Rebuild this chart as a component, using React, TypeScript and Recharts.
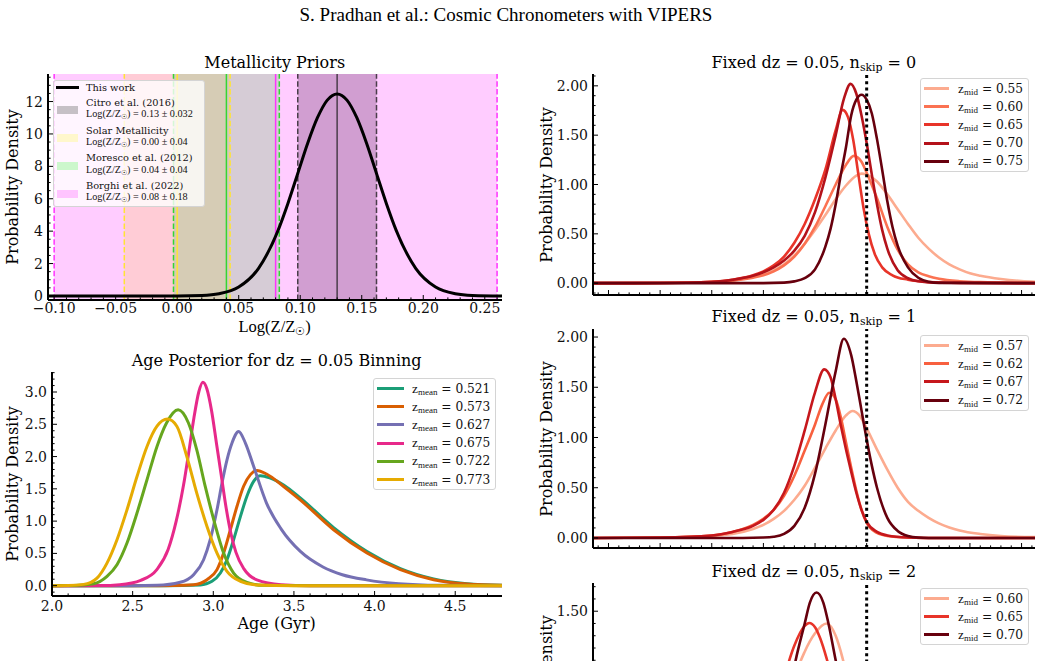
import React from "react";
import { LineChart, Line, XAxis, YAxis, ReferenceArea, ReferenceLine } from "recharts";

const SERIF = '"DejaVu Serif", serif';
const MATH = '"Liberation Serif", "DejaVu Serif", serif';

// ---------- Metallicity priors ----------
const metalLogZ = [-0.105, -0.05, 0.0, 0.02, 0.034, 0.05, 0.066, 0.082, 0.09, 0.098, 0.106, 0.114, 0.122, 0.13, 0.138, 0.146, 0.154, 0.162, 0.17, 0.178, 0.194, 0.21, 0.226, 0.24, 0.264];
const metalPdf = [0, 0, 0.003, 0.034, 0.14, 0.55, 1.69, 4.05, 5.71, 7.56, 9.41, 11.0, 12.09, 12.47, 12.09, 11.0, 9.41, 7.56, 5.71, 4.05, 1.69, 0.55, 0.14, 0.034, 0.001];

const priorNames = ["Citro et al. (2016)", "Solar Metallicity", "Moresco et al. (2012)", "Borghi et al. (2022)"];
const priorMean = [0.13, 0.0, 0.04, 0.08];
const priorSigma = [0.032, 0.043, 0.043, 0.18];
const priorText = ["0.13 \u00b1 0.032", "0.00 \u00b1 0.04", "0.04 \u00b1 0.04", "0.08 \u00b1 0.18"];
const priorFill = ["#808080", "#ffff00", "#00ff00", "#ff00ff"];
const priorOpacity = [0.45, 0.2, 0.2, 0.2];
const priorPatch = ["rgba(128,128,128,0.45)", "rgba(255,255,0,0.2)", "rgba(0,255,0,0.2)", "rgba(255,0,255,0.2)"];
const priorLine = ["#4a3d4a", "#ffe433", "#33d633", "#ff33ff"];

const metalXMajor = [-0.1, -0.05, 0, 0.05, 0.1, 0.15, 0.2, 0.25];
const metalYMajor = [0, 2, 4, 6, 8, 10, 12];

// ---------- Age posterior, dz = 0.05 ----------
const zMean = ["0.521", "0.573", "0.627", "0.675", "0.722", "0.773"];
const ageColors = ["#1b9e77", "#d95f02", "#7570b3", "#e7298a", "#66a61e", "#e6ab02"];

const age521 = [2.0, 2.7, 2.92, 2.992, 3.044, 3.085, 3.126, 3.168, 3.209, 3.251, 3.292, 3.35, 3.436, 3.539, 3.746, 3.953, 4.16, 4.366, 4.573, 4.79];
const pdf521 = [0, 0, 0.01, 0.067, 0.196, 0.402, 0.712, 1.07, 1.39, 1.62, 1.703, 1.67, 1.56, 1.36, 0.9, 0.53, 0.265, 0.105, 0.03, 0.006];
const age573 = [2.0, 2.6, 2.754, 2.878, 2.961, 3.023, 3.064, 3.106, 3.147, 3.188, 3.23, 3.271, 3.33, 3.436, 3.539, 3.746, 3.953, 4.16, 4.366, 4.573, 4.79];
const pdf573 = [0, 0, 0.002, 0.015, 0.093, 0.248, 0.506, 0.867, 1.23, 1.54, 1.72, 1.785, 1.73, 1.537, 1.33, 0.867, 0.506, 0.248, 0.093, 0.026, 0.005];
const age627 = [2.0, 2.5, 2.651, 2.795, 2.878, 2.94, 2.981, 3.023, 3.054, 3.085, 3.116, 3.157, 3.199, 3.25, 3.33, 3.42, 3.54, 3.68, 3.8, 3.95, 4.15, 4.4, 4.79];
const pdf627 = [0, 0, 0.005, 0.052, 0.17, 0.402, 0.712, 1.176, 1.59, 1.95, 2.21, 2.389, 2.21, 1.85, 1.28, 0.88, 0.53, 0.29, 0.17, 0.09, 0.03, 0.005, 0];
const age675 = [2.0, 2.3, 2.42, 2.55, 2.65, 2.72, 2.77, 2.815, 2.85, 2.88, 2.91, 2.935, 2.96, 2.99, 3.02, 3.05, 3.08, 3.11, 3.14, 3.19, 3.27, 3.42, 3.6, 4.79];
const pdf675 = [0, 0.001, 0.015, 0.083, 0.25, 0.56, 1.0, 1.55, 2.1, 2.6, 3.0, 3.15, 3.05, 2.7, 2.2, 1.7, 1.2, 0.8, 0.52, 0.26, 0.09, 0.015, 0, 0];
const age722 = [2.0, 2.134, 2.258, 2.341, 2.403, 2.465, 2.527, 2.589, 2.651, 2.71, 2.782, 2.846, 2.898, 2.95, 3.003, 3.064, 3.126, 3.209, 3.312, 3.6, 4.79];
const pdf722 = [0, 0.002, 0.03, 0.145, 0.325, 0.66, 1.125, 1.64, 2.157, 2.52, 2.724, 2.52, 2.1, 1.537, 1.02, 0.505, 0.196, 0.05, 0.005, 0, 0];
const age773 = [2.0, 2.1, 2.196, 2.279, 2.341, 2.403, 2.465, 2.527, 2.589, 2.651, 2.716, 2.774, 2.836, 2.898, 2.961, 3.023, 3.085, 3.168, 3.27, 3.5, 4.79];
const pdf773 = [0, 0.003, 0.02, 0.118, 0.35, 0.712, 1.176, 1.69, 2.157, 2.47, 2.58, 2.47, 2.0, 1.43, 0.918, 0.505, 0.222, 0.067, 0.01, 0, 0];

const ageXMajor = [2.0, 2.5, 3.0, 3.5, 4.0, 4.5];
const ageYMajor = [0, 0.5, 1.0, 1.5, 2.0, 2.5, 3.0];

// ---------- Fixed dz = 0.05 panels ----------
const fiducialX = 2.5;

const skip0Mid = ["0.55", "0.60", "0.65", "0.70", "0.75"];
const skip0Colors = ["#fcab8f", "#fb7252", "#e83429", "#b4121a", "#67000d"];
const s0x055 = [-0.15, 0.5, 0.8, 1.0, 1.2, 1.4, 1.6, 1.7, 1.8, 1.9, 2.0, 2.1, 2.2, 2.3, 2.4, 2.45, 2.5, 2.6, 2.7, 2.8, 2.9, 3.0, 3.1, 3.2, 3.3, 3.4, 3.5, 3.6, 3.8, 4.0, 4.13];
const s0y055 = [0, 0.002, 0.008, 0.015, 0.03, 0.065, 0.13, 0.19, 0.28, 0.4, 0.54, 0.69, 0.85, 0.99, 1.09, 1.11, 1.1, 1.03, 0.9, 0.75, 0.6, 0.46, 0.35, 0.26, 0.19, 0.14, 0.1, 0.075, 0.042, 0.022, 0.015];
const s0x060 = [-0.15, 0.5, 1.0, 1.2, 1.4, 1.5, 1.6, 1.7, 1.8, 1.9, 2.0, 2.1, 2.2, 2.3, 2.376, 2.45, 2.5, 2.6, 2.7, 2.8, 2.9, 3.0, 3.1, 3.2, 3.4, 3.6, 4.13];
const s0y060 = [0, 0.002, 0.012, 0.025, 0.055, 0.08, 0.12, 0.18, 0.27, 0.4, 0.57, 0.78, 1.0, 1.2, 1.29, 1.23, 1.12, 0.86, 0.57, 0.34, 0.19, 0.11, 0.07, 0.045, 0.02, 0.01, 0.003];
const s0x065 = [-0.15, 0.5, 1.0, 1.2, 1.4, 1.5, 1.6, 1.7, 1.8, 1.9, 2.0, 2.1, 2.2, 2.267, 2.32, 2.37, 2.42, 2.47, 2.52, 2.58, 2.65, 2.75, 2.9, 3.1, 3.4, 4.13];
const s0y065 = [0, 0.003, 0.015, 0.035, 0.08, 0.12, 0.18, 0.27, 0.41, 0.6, 0.85, 1.15, 1.55, 1.756, 1.68, 1.45, 1.1, 0.76, 0.5, 0.29, 0.16, 0.08, 0.035, 0.012, 0.003, 0];
const s0x070 = [-0.15, 0.5, 1.0, 1.2, 1.4, 1.5, 1.6, 1.7, 1.8, 1.9, 2.0, 2.1, 2.2, 2.28, 2.344, 2.4, 2.45, 2.5, 2.55, 2.6, 2.65, 2.7, 2.8, 2.9, 3.0, 3.2, 4.13];
const s0y070 = [0, 0.002, 0.012, 0.035, 0.075, 0.11, 0.16, 0.23, 0.33, 0.48, 0.72, 1.07, 1.5, 1.87, 2.02, 1.92, 1.7, 1.42, 1.1, 0.8, 0.54, 0.35, 0.13, 0.05, 0.02, 0.004, 0];
const s0x075 = [-0.15, 1.5, 1.7, 1.8, 1.9, 2.0, 2.1, 2.15, 2.2, 2.25, 2.3, 2.35, 2.4, 2.45, 2.5, 2.55, 2.6, 2.65, 2.7, 2.75, 2.8, 2.9, 3.0, 3.1, 3.2, 4.13];
const s0y075 = [0, 0, 0.005, 0.018, 0.05, 0.14, 0.37, 0.55, 0.8, 1.1, 1.38, 1.7, 1.86, 1.91, 1.86, 1.72, 1.46, 1.15, 0.83, 0.57, 0.38, 0.16, 0.055, 0.015, 0.003, 0];

const skip1Mid = ["0.57", "0.62", "0.67", "0.72"];
const skip1Colors = ["#fcab8f", "#f8603f", "#c6171c", "#67000d"];
const s1x057 = [-0.15, 0.5, 1.0, 1.2, 1.4, 1.5, 1.6, 1.7, 1.8, 1.9, 2.0, 2.1, 2.2, 2.3, 2.363, 2.43, 2.5, 2.6, 2.7, 2.8, 2.9, 3.0, 3.1, 3.2, 3.3, 3.4, 3.6, 3.8, 4.13];
const s1y057 = [0, 0.005, 0.02, 0.04, 0.09, 0.13, 0.19, 0.27, 0.38, 0.52, 0.7, 0.89, 1.07, 1.22, 1.264, 1.22, 1.09, 0.88, 0.68, 0.5, 0.36, 0.27, 0.2, 0.145, 0.105, 0.075, 0.04, 0.02, 0.008];
const s1x062 = [-0.15, 0.5, 1.0, 1.2, 1.4, 1.5, 1.6, 1.7, 1.8, 1.9, 2.0, 2.07, 2.138, 2.2, 2.25, 2.3, 2.35, 2.4, 2.45, 2.5, 2.6, 2.7, 2.9, 3.2, 4.13];
const s1y062 = [0, 0.005, 0.025, 0.06, 0.13, 0.19, 0.28, 0.42, 0.62, 0.87, 1.13, 1.33, 1.446, 1.38, 1.2, 0.95, 0.7, 0.47, 0.28, 0.15, 0.05, 0.02, 0.005, 0, 0];
const s1x067 = [-0.15, 0.5, 1.0, 1.2, 1.4, 1.5, 1.6, 1.7, 1.8, 1.9, 2.0, 2.089, 2.15, 2.2, 2.25, 2.3, 2.35, 2.4, 2.45, 2.5, 2.6, 2.7, 2.9, 3.2, 4.13];
const s1y067 = [0, 0.005, 0.025, 0.06, 0.12, 0.18, 0.28, 0.45, 0.72, 1.07, 1.45, 1.678, 1.6, 1.38, 1.12, 0.88, 0.66, 0.45, 0.28, 0.16, 0.06, 0.025, 0.005, 0, 0];
const s1x072 = [-0.15, 1.3, 1.5, 1.6, 1.7, 1.8, 1.9, 2.0, 2.1, 2.2, 2.279, 2.35, 2.4, 2.45, 2.5, 2.55, 2.6, 2.7, 2.8, 2.9, 3.0, 3.2, 4.13];
const s1y072 = [0, 0, 0.004, 0.012, 0.04, 0.12, 0.3, 0.64, 1.13, 1.66, 1.983, 1.82, 1.56, 1.27, 0.98, 0.72, 0.5, 0.2, 0.07, 0.02, 0.005, 0, 0];

const skip2Mid = ["0.60", "0.65", "0.70"];
const skip2Colors = ["#fcab8f", "#e83429", "#67000d"];
const s2x060 = [-0.15, 1.0, 1.2, 1.3, 1.4, 1.5, 1.6, 1.7, 1.8, 1.9, 2.0, 2.112, 2.2, 2.267, 2.35, 2.45, 2.55, 2.65, 2.8, 3.0, 4.13];
const s2y060 = [0, 0.005, 0.03, 0.06, 0.11, 0.2, 0.35, 0.58, 0.95, 1.17, 1.32, 1.4, 1.3, 1.116, 0.8, 0.45, 0.2, 0.08, 0.02, 0, 0];
const s2x065 = [-0.15, 0.8, 1.0, 1.2, 1.3, 1.4, 1.5, 1.6, 1.7, 1.8, 1.9, 1.944, 2.0, 2.05, 2.112, 2.2, 2.3, 2.4, 2.5, 2.6, 2.8, 3.0, 4.13];
const s2y065 = [0, 0.005, 0.02, 0.07, 0.13, 0.23, 0.4, 0.65, 0.96, 1.22, 1.38, 1.404, 1.37, 1.28, 1.116, 0.82, 0.5, 0.26, 0.12, 0.05, 0.01, 0, 0];
const s2x070 = [-0.15, 1.0, 1.3, 1.4, 1.5, 1.6, 1.7, 1.8, 1.9, 1.95, 2.015, 2.08, 2.13, 2.2, 2.3, 2.4, 2.5, 2.6, 2.7, 2.9, 4.13];
const s2y070 = [0, 0, 0.02, 0.05, 0.12, 0.28, 0.55, 1.05, 1.4, 1.57, 1.652, 1.57, 1.4, 1.1, 0.7, 0.36, 0.15, 0.05, 0.015, 0, 0];

const skipXMajor = [0, 0.5, 1.0, 1.5, 2.0, 2.5, 3.0, 3.5, 4.0];
const skipYMajor = [0, 0.5, 1.0, 1.5, 2.0];

// ---------- helpers ----------
function range(a: number, b: number, step: number): number[] {
  const out: number[] = [];
  const n = Math.round((b - a) / step);
  for (let i = 0; i <= n; i++) out.push(Math.round((a + i * step) * 10000) / 10000);
  return out;
}

const zip = (xs: number[], ys: number[]) => xs.map((x, i) => ({ x, y: ys[i] }));

const AXIS = { stroke: "#000", strokeWidth: 2 };

type Side = "bottom" | "top" | "left" | "right";

/* eslint-disable @typescript-eslint/no-explicit-any */
function inwardTick(side: Side, majors: number[], fmt?: (v: number) => string, pad = 4) {
  return (props: any) => {
    const { x, y, payload } = props;
    const v = Number(payload?.value);
    const major = majors.some((m) => Math.abs(m - v) < 1e-7);
    const len = major ? 5 : 2.6;
    let x2 = x;
    let y2 = y;
    if (side === "bottom") y2 = y - len;
    else if (side === "top") y2 = y + len;
    else if (side === "left") x2 = x + len;
    else x2 = x - len;
    let label = null;
    if (major && fmt) {
      label =
        side === "bottom" ? (
          <text x={x} y={y + pad} dy="0.74em" textAnchor="middle" fontFamily={SERIF} fontSize={14} fill="#111">
            {fmt(v)}
          </text>
        ) : (
          <text x={x - pad} y={y} dy="0.36em" textAnchor="end" fontFamily={SERIF} fontSize={14} fill="#111">
            {fmt(v)}
          </text>
        );
    }
    return (
      <g>
        <line x1={x} y1={y} x2={x2} y2={y2} stroke="#000" strokeWidth={1} />
        {label}
      </g>
    );
  };
}
/* eslint-enable @typescript-eslint/no-explicit-any */

interface FramedProps {
  left: number;
  top: number;
  width: number;
  height: number;
  margin: { top: number; right: number; bottom: number; left: number };
  xDomain: [number, number];
  yDomain: [number, number];
  xTicks: number[];
  xMajor: number[];
  yTicks: number[];
  yMajor: number[];
  xFmt?: (v: number) => string;
  yFmt: (v: number) => string;
  xAxisHeight: number;
  yAxisWidth: number;
  xPad?: number;
  children: React.ReactNode;
}

function FramedChart(p: FramedProps) {
  return (
    <div style={{ position: "absolute", left: p.left, top: p.top, width: p.width, height: p.height }}>
      <LineChart width={p.width} height={p.height} margin={p.margin}>
        {p.children}
        <XAxis type="number" dataKey="x" domain={p.xDomain} allowDataOverflow ticks={p.xTicks} interval={0}
          tick={inwardTick("bottom", p.xMajor, p.xFmt, p.xPad ?? 4)} tickLine={false} tickSize={0} tickMargin={0}
          axisLine={AXIS} height={p.xAxisHeight} />
        <XAxis xAxisId="top" orientation="top" type="number" domain={p.xDomain} allowDataOverflow ticks={p.xTicks}
          interval={0} tick={inwardTick("top", p.xMajor)} tickLine={false} tickSize={0} tickMargin={0}
          axisLine={AXIS} height={0} />
        <YAxis type="number" domain={p.yDomain} allowDataOverflow ticks={p.yTicks} interval={0}
          tick={inwardTick("left", p.yMajor, p.yFmt, 5)} tickLine={false} tickSize={0} tickMargin={0}
          axisLine={AXIS} width={p.yAxisWidth} />
        <YAxis yAxisId="right" orientation="right" type="number" domain={p.yDomain} allowDataOverflow
          ticks={p.yTicks} interval={0} tick={inwardTick("right", p.yMajor)} tickLine={false} tickSize={0}
          tickMargin={0} axisLine={AXIS} width={0} />
      </LineChart>
    </div>
  );
}

function Text(props: { x: number; y: number; size?: number; font?: string; rotate?: boolean; children: React.ReactNode }) {
  const { x, y, size = 16, font = SERIF, rotate = false, children } = props;
  return (
    <div style={{
      position: "absolute", left: x, top: y, fontFamily: font, fontSize: size, lineHeight: 1,
      whiteSpace: "nowrap", color: "#000",
      transform: `translate(-50%, -50%)${rotate ? " rotate(-90deg)" : ""}`,
    }}>
      {children}
    </div>
  );
}

const Sub = ({ children }: { children: React.ReactNode }) => (
  <span style={{ fontSize: "0.68em", position: "relative", top: "0.28em" }}>{children}</span>
);

function CurveLegend(props: { left: number; top: number; width: number; sub: string; values: string[]; colors: string[]; handle: number; textLeft: number }) {
  const rowH = 18.2;
  const h = 21 + (props.values.length - 1) * rowH;
  return (
    <div style={{
      position: "absolute", left: props.left, top: props.top, width: props.width, height: h,
      background: "rgba(255,255,255,0.8)", border: "1px solid #d4d4d4", borderRadius: 3, boxSizing: "border-box",
    }}>
      {props.values.map((v, i) => (
        <div key={v} style={{ position: "absolute", left: 0, top: 9.5 + i * rowH - 8, height: 16, width: "100%" }}>
          <div style={{ position: "absolute", left: 2.5, top: 6.5, width: props.handle, height: 3, background: props.colors[i] }} />
          <div style={{ position: "absolute", left: props.textLeft, top: 0, lineHeight: "16px", whiteSpace: "nowrap", fontFamily: SERIF, fontSize: 12.2, color: "#111" }}>
            <span style={{ fontFamily: MATH, fontSize: 13.5 }}>z</span>
            <span style={{ fontFamily: MATH, fontSize: 9, position: "relative", top: 2.5 }}>{props.sub}</span>
            {" = " + v}
          </div>
        </div>
      ))}
    </div>
  );
}

function PriorLegend() {
  return (
    <div style={{
      position: "absolute", left: 53, top: 80, width: 152, height: 127, background: "rgba(255,255,255,0.8)",
      border: "1px solid #d4d4d4", borderRadius: 3, boxSizing: "border-box", fontFamily: SERIF, fontSize: 9.8, color: "#111",
    }}>
      <div style={{ position: "absolute", left: 2, top: 5.3, width: 23, height: 3, background: "#000" }} />
      <div style={{ position: "absolute", left: 32, top: 0.7, lineHeight: "12px", whiteSpace: "nowrap" }}>This work</div>
      {priorNames.map((n, i) => {
        const y1 = 21.7 + i * 27.8;
        return (
          <React.Fragment key={n}>
            <div style={{ position: "absolute", left: 2.7, top: y1 + 3.5, width: 21.6, height: 8, background: priorPatch[i] }} />
            <div style={{ position: "absolute", left: 32, top: y1 - 6, lineHeight: "12px", whiteSpace: "nowrap" }}>{n}</div>
            <div style={{ position: "absolute", left: 32, top: y1 + 5.3, lineHeight: "12px", whiteSpace: "nowrap", fontFamily: MATH, fontSize: 10.2 }}>
              Log(Z/Z<Sub>{"\u2609"}</Sub>) = {priorText[i]}
            </div>
          </React.Fragment>
        );
      })}
    </div>
  );
}

const fmtMetalX = (v: number) => (v < 0 ? "\u2212" : "") + Math.abs(v).toFixed(2);
const fmtInt = (v: number) => String(v);
const fmt1 = (v: number) => v.toFixed(1);
const fmt2 = (v: number) => v.toFixed(2);

const ageSeries = [
  zip(age521, pdf521), zip(age573, pdf573), zip(age627, pdf627),
  zip(age675, pdf675), zip(age722, pdf722), zip(age773, pdf773),
];
const skip0Series = [zip(s0x055, s0y055), zip(s0x060, s0y060), zip(s0x065, s0y065), zip(s0x070, s0y070), zip(s0x075, s0y075)];
const skip1Series = [zip(s1x057, s1y057), zip(s1x062, s1y062), zip(s1x067, s1y067), zip(s1x072, s1y072)];
const skip2Series = [zip(s2x060, s2y060), zip(s2x065, s2y065), zip(s2x070, s2y070)];

const skipX: [number, number] = [-0.15, 4.13];
const skipXTicks = range(-0.1, 4.1, 0.1);

function curves(series: { x: number; y: number }[][], colors: string[], width: number) {
  return series.map((d, i) => (
    <Line key={"c" + i} data={d} dataKey="y" type="monotone" stroke={colors[i]} strokeWidth={width}
      dot={false} activeDot={false} isAnimationActive={false} />
  ));
}

function fiducial() {
  return <ReferenceLine x={fiducialX} stroke="#000" strokeWidth={3} strokeDasharray="3 3.2" />;
}

export default function App() {
  return (
    <div style={{ position: "absolute", left: 0, top: 0, width: 1043, height: 661, overflow: "hidden", background: "#fff" }}>
      <Text x={506} y={14} size={19} font={MATH}>S. Pradhan et al.: Cosmic Chronometers with VIPERS</Text>

      {/* Metallicity priors */}
      <FramedChart left={0} top={50} width={520} height={280} margin={{ top: 24, right: 18, bottom: 0, left: 0 }}
        xDomain={[-0.105, 0.264]} yDomain={[-0.25, 13.7]} xTicks={range(-0.1, 0.26, 0.01)} xMajor={metalXMajor}
        yTicks={range(0, 13.5, 0.5)} yMajor={metalYMajor} xFmt={fmtMetalX} yFmt={fmtInt}
        xAxisHeight={30} yAxisWidth={48} xPad={3}>
        {priorMean.map((m, i) => (
          <ReferenceArea key={"a" + i} x1={m - priorSigma[i]} x2={m + priorSigma[i]} fill={priorFill[i]}
            fillOpacity={priorOpacity[i]} stroke="none" />
        ))}
        {priorMean.map((m, i) => [
          <ReferenceLine key={"m" + i} x={m} stroke={priorLine[i]} strokeWidth={1.5} />,
          <ReferenceLine key={"lo" + i} x={m - priorSigma[i]} stroke={priorLine[i]} strokeWidth={1.5} strokeDasharray="5.5 2.4" />,
          <ReferenceLine key={"hi" + i} x={m + priorSigma[i]} stroke={priorLine[i]} strokeWidth={1.5} strokeDasharray="5.5 2.4" />,
        ])}
        <Line data={zip(metalLogZ, metalPdf)} dataKey="y" type="monotone" stroke="#000" strokeWidth={3}
          dot={false} activeDot={false} isAnimationActive={false} />
      </FramedChart>
      <PriorLegend />
      <Text x={274.7} y={63}>Metallicity Priors</Text>
      <Text x={274.7} y={327} size={16.5} font={MATH}>Log(Z/Z<Sub>{"\u2609"}</Sub>)</Text>
      <Text x={13.3} y={187} rotate>Probability Density</Text>

      {/* Age posterior */}
      <FramedChart left={0} top={340} width={520} height={300} margin={{ top: 32, right: 18, bottom: 0, left: 0 }}
        xDomain={[2.0, 4.79]} yDomain={[-0.16, 3.31]} xTicks={range(2.0, 4.7, 0.1)} xMajor={ageXMajor}
        yTicks={range(-0.1, 3.3, 0.1)} yMajor={ageYMajor} xFmt={fmt1} yFmt={fmt1}
        xAxisHeight={44} yAxisWidth={52} xPad={5}>
        {curves(ageSeries, ageColors, 3)}
      </FramedChart>
      <CurveLegend left={373} top={378} width={123} sub="mean" values={zMean} colors={ageColors} handle={27} textLeft={38} />
      <Text x={276.7} y={360.7}>Age Posterior for dz = 0.05 Binning</Text>
      <Text x={276.7} y={624}>Age (Gyr)</Text>
      <Text x={13.3} y={484} rotate>Probability Density</Text>

      {/* n_skip = 0 */}
      <FramedChart left={530} top={50} width={513} height={260} margin={{ top: 24, right: 8, bottom: 0, left: 0 }}
        xDomain={skipX} yDomain={[-0.12, 2.12]} xTicks={skipXTicks} xMajor={skipXMajor}
        yTicks={range(-0.1, 2.1, 0.1)} yMajor={skipYMajor} yFmt={fmt2} xAxisHeight={15} yAxisWidth={63}>
        {curves(skip0Series, skip0Colors, 2.6)}
        {fiducial()}
      </FramedChart>
      <CurveLegend left={920} top={78} width={109} sub="mid" values={skip0Mid} colors={skip0Colors} handle={25} textLeft={37} />
      <Text x={813.9} y={63}>Fixed dz = 0.05, n<Sub>skip</Sub> = 0</Text>
      <Text x={546.7} y={184.5} rotate>Probability Density</Text>

      {/* n_skip = 1 */}
      <FramedChart left={530} top={300} width={513} height={260} margin={{ top: 29, right: 8, bottom: 0, left: 0 }}
        xDomain={skipX} yDomain={[-0.1, 2.08]} xTicks={skipXTicks} xMajor={skipXMajor}
        yTicks={range(0, 2.0, 0.1)} yMajor={skipYMajor} yFmt={fmt2} xAxisHeight={12} yAxisWidth={63}>
        {curves(skip1Series, skip1Colors, 2.6)}
        {fiducial()}
      </FramedChart>
      <CurveLegend left={920} top={335} width={109} sub="mid" values={skip1Mid} colors={skip1Colors} handle={25} textLeft={37} />
      <Text x={813.9} y={316.7}>Fixed dz = 0.05, n<Sub>skip</Sub> = 1</Text>
      <Text x={546.7} y={438.8} rotate>Probability Density</Text>

      {/* n_skip = 2 (cut off by the page edge) */}
      <FramedChart left={530} top={555} width={513} height={260} margin={{ top: 28, right: 8, bottom: 0, left: 0 }}
        xDomain={skipX} yDomain={[-0.08, 1.73]} xTicks={skipXTicks} xMajor={skipXMajor}
        yTicks={range(0, 1.7, 0.1)} yMajor={skipYMajor} yFmt={fmt2} xAxisHeight={10} yAxisWidth={63}>
        {curves(skip2Series, skip2Colors, 2.6)}
        {fiducial()}
      </FramedChart>
      <CurveLegend left={920} top={588} width={109} sub="mid" values={skip2Mid} colors={skip2Colors} handle={25} textLeft={37} />
      <Text x={813.9} y={571.7}>Fixed dz = 0.05, n<Sub>skip</Sub> = 2</Text>
      <Text x={546.7} y={693} rotate>Probability Density</Text>
    </div>
  );
}
